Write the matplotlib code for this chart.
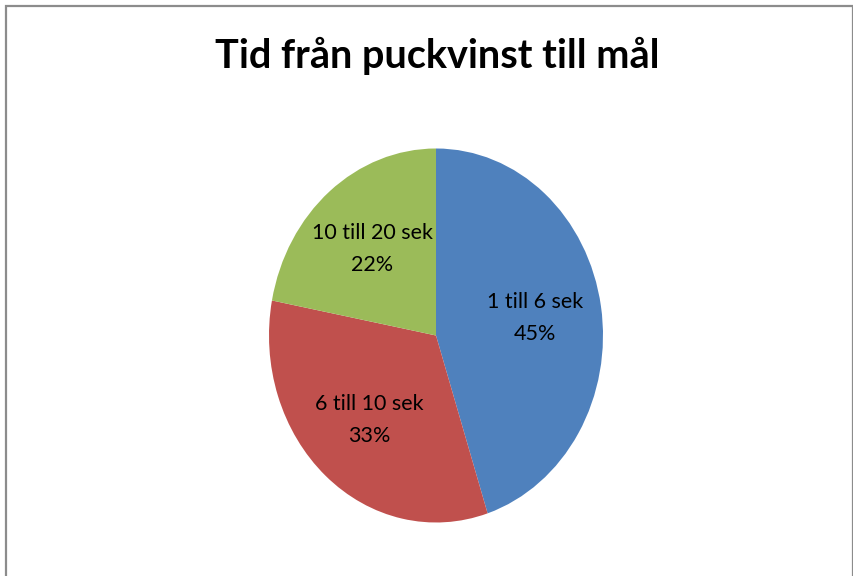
import matplotlib
matplotlib.use("Agg")
import matplotlib.pyplot as plt
from matplotlib.patches import Rectangle

# data
title = "Tid från puckvinst till mål"
categories = ["1 till 6 sek", "6 till 10 sek", "10 till 20 sek"]
shares = [45, 33, 22]
colors = ["#4F81BD", "#C0504D", "#9BBB59"]

plt.rcParams["font.family"] = ["Lato", "DejaVu Sans"]

W, H = 854, 576
fig = plt.figure(figsize=(W / 100, H / 100), dpi=100)
fig.patch.set_facecolor("white")

# outer chart frame (Excel style)
fig.patches.append(Rectangle((6 / W, -0.02), (853.5 - 6) / W, 1 - 6 / H + 0.02,
                             transform=fig.transFigure, fill=False,
                             edgecolor="#8c8c8c", linewidth=1.6))

fig.text(437 / W, 1 - 56 / H, title, ha="center", va="center",
         fontsize=28.5, fontweight="bold", color="black")

# pie is slightly taller than wide, like the original
cx, cy, rx, ry = 436, 335.5, 167, 187
ax = fig.add_axes([(cx - rx) / W, (H - cy - ry) / H, 2 * rx / W, 2 * ry / H])
labels = [f"{c}\n{s}%" for c, s in zip(categories, shares)]
wedges, texts = ax.pie(shares, colors=colors, startangle=90, counterclock=False,
                       labels=labels, labeldistance=0.6,
                       textprops=dict(fontsize=15.5, ha="center", va="center",
                                      linespacing=1.75))
ax.set_aspect("auto")
ax.set_xlim(-1, 1)
ax.set_ylim(-1, 1)
ax.axis("off")

fig.savefig("out.png", dpi=100)
